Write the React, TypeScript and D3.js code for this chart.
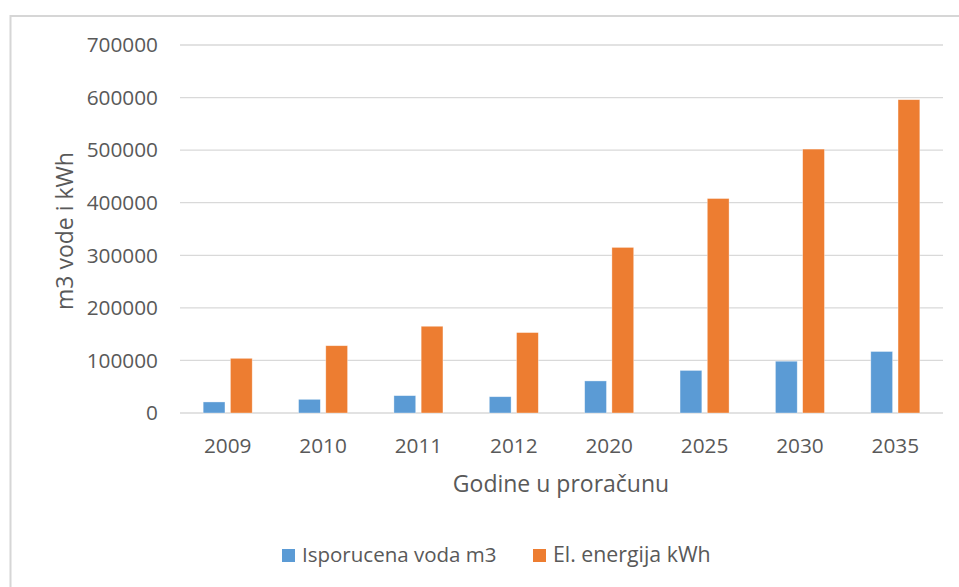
import React from "react";
import * as d3 from "d3";

const categories = ["2009", "2010", "2011", "2012", "2020", "2025", "2030", "2035"];
const seriesNames = ["Isporucena voda m3", "El. energija kWh"];
const vodaValues = [21000, 26000, 33000, 31000, 61000, 81000, 98500, 117000];
const energijaValues = [104000, 128000, 165000, 153000, 315000, 408000, 502000, 596000];
const yTicks = [0, 100000, 200000, 300000, 400000, 500000, 600000, 700000];
const colors = ["#5B9BD5", "#ED7D31"];

const W = 959;
const H = 587;
const plot = { left: 180, right: 943, top: 45, bottom: 413 };
const FONT = "'Open Sans', 'DejaVu Sans', sans-serif";
const TEXT = "#595959";

export default function App() {
  const x0 = d3.scaleBand<string>().domain(categories).range([plot.left, plot.right]).paddingInner(0.486).paddingOuter(0.243);
  const x1 = d3.scaleBand<string>().domain(seriesNames).range([0, x0.bandwidth()]).paddingInner(0.2);
  const y = d3.scaleLinear().domain([0, 700000]).range([plot.bottom, plot.top]);
  const series = [vodaValues, energijaValues];
  const legendX = [282, 533];

  return (
    <svg width={W} height={H} style={{ position: "absolute", left: 0, top: 0, background: "#fff" }} fontFamily={FONT}>
      <rect x={0} y={0} width={W} height={H} fill="#fff" />
      <rect x={10.5} y={16} width={1100} height={1100} fill="#fff" stroke="#D6D6D6" strokeWidth={2} />
      {yTicks.map((t) => (
        <g key={t}>
          <line x1={plot.left} x2={plot.right} y1={y(t)} y2={y(t)} stroke="#D9D9D9" strokeWidth={1.3} />
          <text x={158} y={y(t)} dy="0.35em" textAnchor="end" fontSize={20.8} fill={TEXT}>
            {t}
          </text>
        </g>
      ))}
      {categories.map((c, i) => (
        <g key={c}>
          {series.map((vals, s) => (
            <rect
              key={s}
              x={(x0(c) as number) + (x1(seriesNames[s]) as number)}
              y={y(vals[i])}
              width={x1.bandwidth()}
              height={plot.bottom - y(vals[i])}
              fill={colors[s]}
              stroke="#fff"
              strokeOpacity={0.5}
              strokeWidth={0.7}
            />
          ))}
          <text x={(x0(c) as number) + x0.bandwidth() / 2} y={453} textAnchor="middle" fontSize={20.8} fill={TEXT}>
            {c}
          </text>
        </g>
      ))}
      <text x={561} y={492} textAnchor="middle" fontSize={23} fill={TEXT}>
        Godine u proračunu
      </text>
      <text transform={`translate(73, ${(plot.top + plot.bottom) / 2 + 2}) rotate(-90)`} textAnchor="middle" fontSize={23} fill={TEXT}>
        m3 vode i kWh
      </text>
      {seriesNames.map((n, s) => (
        <g key={n}>
          <rect x={legendX[s]} y={549} width={13} height={13} fill={colors[s]} />
          <text x={legendX[s] + 20} y={562} fontSize={s === 0 ? 20.5 : 21.3} fill={TEXT}>
            {n}
          </text>
        </g>
      ))}
    </svg>
  );
}
